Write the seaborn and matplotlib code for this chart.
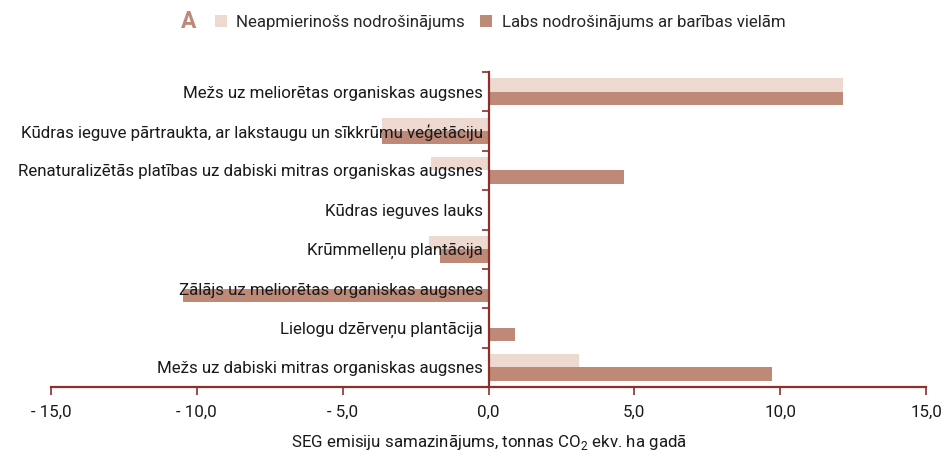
import matplotlib
matplotlib.use("Agg")
import matplotlib.pyplot as plt
import seaborn as sns
import pandas as pd
from matplotlib.ticker import FuncFormatter, FixedLocator
from matplotlib.patches import Patch

categories = [
    "Mežs uz meliorētas organiskas augsnes",
    "Kūdras ieguve pārtraukta, ar lakstaugu un sīkkrūmu veģetāciju",
    "Renaturalizētās platības uz dabiski mitras organiskas augsnes",
    "Kūdras ieguves lauks",
    "Krūmmelleņu plantācija",
    "Zālājs uz meliorētas organiskas augsnes",
    "Lielogu dzērveņu plantācija",
    "Mežs uz dabiski mitras organiskas augsnes",
]
series_names = ["Neapmierinošs nodrošinājums", "Labs nodrošinājums ar barības vielām"]
poor_values = [12.15, -3.65, -1.97, 0.0, -2.03, 0.0, 0.0, 3.11]
good_values = [12.15, -3.65, 4.65, 0.0, -1.65, -10.47, 0.91, 9.72]
x_ticks = [-15, -10, -5, 0, 5, 10, 15]
panel_letter = "A"
x_label = "SEG emisiju samazinājums, tonnas CO$_2$ ekv. ha gadā"

light = "#EDD9CF"
dark = "#BF8978"
axis_col = "#8E2F2C"
txt = "#1a1a1a"
FS = 12.2

df = pd.DataFrame({
    "cat": categories * 2,
    "series": [series_names[0]] * len(categories) + [series_names[1]] * len(categories),
    "value": poor_values + good_values,
})

sns.set_theme(style="white")
plt.rcParams["font.family"] = ["Roboto", "DejaVu Sans"]
plt.rcParams["mathtext.fontset"] = "custom"
plt.rcParams["mathtext.rm"] = "Roboto"

fig = plt.figure(figsize=(9.49, 4.53), dpi=100)
ax = fig.add_axes([51 / 949, 1 - 387 / 453, 875 / 949, 315 / 453])

sns.barplot(data=df, y="cat", x="value", hue="series", orient="h",
            palette=[light, dark], width=0.68, linewidth=0, ax=ax,
            legend=False, saturation=1)
ax.set_axisbelow(False)

ax.set_xlim(-15, 15)
ax.set_ylim(len(categories) - 0.5, -0.5)
ax.set_xticks(x_ticks)

def fmt(v, pos):
    s = f"{abs(v):.1f}".replace(".", ",")
    return ("- " + s) if v < 0 else s

ax.xaxis.set_major_formatter(FuncFormatter(fmt))
for s in ["top", "right"]:
    ax.spines[s].set_visible(False)
ax.spines["left"].set_position(("data", 0))
ax.spines["left"].set_color(axis_col)
ax.spines["left"].set_linewidth(1.6)
ax.spines["bottom"].set_color(axis_col)
ax.spines["bottom"].set_linewidth(1.6)

ax.tick_params(axis="y", which="major", length=0, pad=4, labelsize=FS, labelcolor=txt)
ax.yaxis.set_minor_locator(FixedLocator([i - 0.5 for i in range(len(categories) + 1)]))
ax.tick_params(axis="y", which="minor", length=5, width=1.2, color=axis_col, left=True)
ax.tick_params(axis="x", which="major", length=6, width=1.2, color=axis_col, bottom=True,
               labelsize=FS, pad=7, labelcolor=txt)
ax.set_ylabel("")
ax.set_xlabel(x_label, fontsize=FS, labelpad=9, color=txt)

fig.text(181 / 949, 1 - 21 / 453, panel_letter, fontsize=16.5, fontweight="bold",
         color=dark, va="center", ha="left")
handles = [Patch(facecolor=light, edgecolor="none"), Patch(facecolor=dark, edgecolor="none")]
fig.legend(handles, series_names, loc="center left", bbox_to_anchor=(200 / 949, 1 - 22 / 453),
           ncol=2, frameon=False, fontsize=FS, handlelength=0.7, handleheight=0.7,
           handletextpad=0.55, columnspacing=0.9)

fig.savefig("out.png", dpi=100)
